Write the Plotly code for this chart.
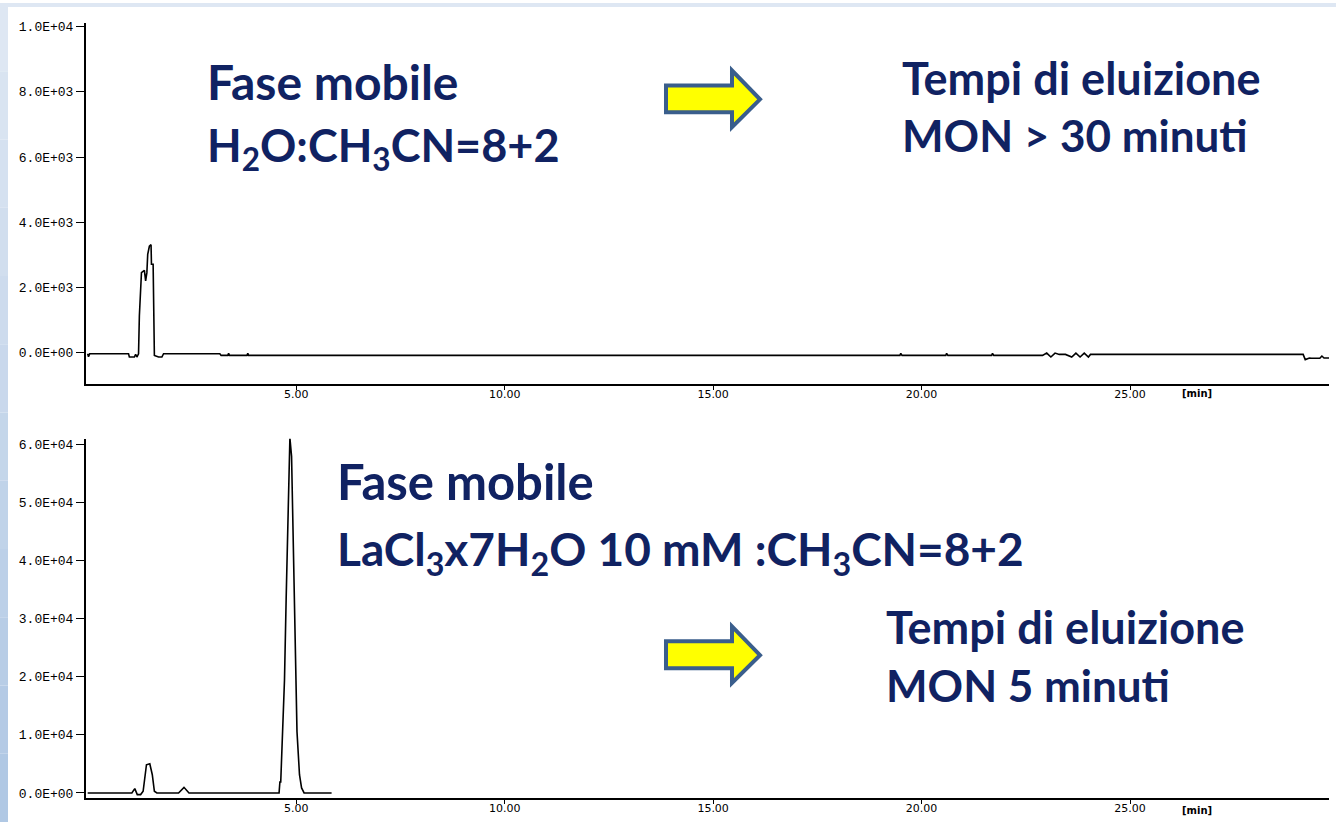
import plotly.graph_objects as go

W, H = 1336, 825

# ---------------- data ----------------
top_time = [0.0, 0.02, 0.05, 0.1, 0.98, 1.0, 1.12, 1.15, 1.18, 1.22, 1.24, 1.29, 1.36, 1.39, 1.42, 1.44,
            1.48, 1.52, 1.53, 1.57, 1.59, 1.6, 1.7, 1.78, 1.82, 3.17, 3.2, 3.36, 3.38, 3.4, 3.82, 3.84, 3.86,
            19.48, 19.5, 19.53, 20.58, 20.6, 20.63, 21.68, 21.7, 21.73,
            22.9, 23.0, 23.1, 23.2, 23.3, 23.45, 23.6, 23.7, 23.8, 23.9, 24.0, 24.05,
            29.15, 29.2, 29.3, 29.35, 29.55, 29.6, 29.65, 29.72, 29.78]
top_signal = [-40, -130, -40, -40, -40, -140, -140, -60, -140, -40, 1130, 2450, 2520, 2200, 2450, 3010,
              3260, 3310, 2710, 2710, 1030, -90, -140, -140, -40, -40, -90, -90, -30, -90, -90, -30, -90,
              -90, -30, -90, -90, -30, -90, -90, -30, -90,
              -90, -20, -140, -20, -60, -60, -140, -20, -140, -20, -140, -60,
              -60, -220, -170, -180, -180, -110, -170, -170, -170]

bot_time = [0.0, 1.06, 1.13, 1.19, 1.27, 1.33, 1.41, 1.49, 1.55, 1.6, 1.66, 2.18, 2.31, 2.43,
            4.59, 4.61, 4.63, 4.66, 4.72, 4.76, 4.81, 4.85, 4.89, 4.95, 4.98, 5.02, 5.08, 5.13, 5.19, 5.85]
bot_signal = [0, 0, 740, -280, -280, 290, 4860, 5030, 3140, 290, 0, 0, 970, 0,
              0, 1890, 1890, 6860, 19430, 33400, 52000, 61200, 58000, 33400, 27430, 10570, 3140, 860, 0, 0]

x_ticks = [5, 10, 15, 20, 25]
x_tick_labels = ["5.00", "10.00", "15.00", "20.00", "25.00"]
top_y_ticks = [0, 2000, 4000, 6000, 8000, 10000]
top_y_labels = ["0.0E+00", "2.0E+03", "4.0E+03", "6.0E+03", "8.0E+03", "1.0E+04"]
bot_y_ticks = [0, 10000, 20000, 30000, 40000, 50000, 60000]
bot_y_labels = ["0.0E+00", "1.0E+04", "2.0E+04", "3.0E+04", "4.0E+04", "5.0E+04", "6.0E+04"]


def px(x):
    return x / W


def py(y):
    return 1 - y / H


TEXT_COLOR = "#102262"
FONT = "Lato"

fig = go.Figure()
fig.add_trace(go.Scatter(x=top_time, y=top_signal, mode="lines",
                         line=dict(color="black", width=1.6), xaxis="x", yaxis="y", showlegend=False))
fig.add_trace(go.Scatter(x=bot_time, y=bot_signal, mode="lines",
                         line=dict(color="black", width=1.6), xaxis="x2", yaxis="y2", showlegend=False))

xcommon = dict(showgrid=False, zeroline=False, showline=True, linecolor="black", linewidth=2,
               ticks="outside", ticklen=4, tickcolor="black", tickwidth=1, ticklabelstandoff=-5,
               tickvals=x_ticks, ticktext=x_tick_labels,
               tickfont=dict(family="DejaVu Sans", size=11, color="black"),
               range=[-0.04, 29.77], domain=[px(86), px(1329)], fixedrange=True)
ycommon = dict(showgrid=False, zeroline=False, showline=True, linecolor="black", linewidth=2,
               ticks="outside", ticklen=8, tickcolor="black", tickwidth=1,
               tickfont=dict(family="Liberation Mono", size=13, color="black"), fixedrange=True)

fig.update_layout(
    width=W, height=H,
    font=dict(family=FONT, size=12, color="black"),
    margin=dict(l=0, r=0, t=0, b=0),
    paper_bgcolor="white", plot_bgcolor="white",
    xaxis=dict(**xcommon, anchor="y"),
    yaxis=dict(**ycommon, anchor="x", domain=[py(384), py(20)], range=[-975, 10120],
               tickvals=top_y_ticks, ticktext=top_y_labels),
    xaxis2=dict(**xcommon, anchor="y2"),
    yaxis2=dict(**ycommon, anchor="x2", domain=[py(801), py(439)], range=[-900, 61030],
                tickvals=bot_y_ticks, ticktext=bot_y_labels),
)

# background strips (light-blue slide frame)
shapes = []
n = 12
for i in range(n):
    f = i / (n - 1)
    r = int(222 - f * (222 - 176))
    g = int(231 - f * (231 - 200))
    b = int(243 - f * (243 - 228))
    shapes.append(dict(type="rect", xref="paper", yref="paper", layer="below",
                       x0=0, x1=px(8), y0=py(H * (i + 1) / n), y1=py(H * i / n),
                       fillcolor=f"rgb({r},{g},{b})", line=dict(width=0)))
shapes.append(dict(type="rect", xref="paper", yref="paper", layer="below",
                   x0=0, x1=1, y0=py(4), y1=1, fillcolor="rgb(222,231,243)", line=dict(width=0)))


def arrow(dy):
    pts = [(666, 83), (732, 83), (732, 68), (760, 97), (732, 125), (732, 110), (666, 110)]
    path = "M " + " L ".join(f"{px(x):.5f},{py(y + dy):.5f}" for x, y in pts) + " Z"
    return dict(type="path", xref="paper", yref="paper", path=path,
                fillcolor="#ffff00", line=dict(color="#3a5e8c", width=4))


shapes.append(arrow(0))
shapes.append(arrow(560))
fig.update_layout(shapes=shapes)

annotations = []


def label(text, x, y, size):
    annotations.append(dict(text="<b>" + text + "</b>", x=px(x), y=py(y), xref="paper", yref="paper",
                            xanchor="left", yanchor="middle", showarrow=False,
                            font=dict(family=FONT, size=size, color=TEXT_COLOR)))


label("Fase mobile", 205, 79, 48)
label("H<sub>2</sub>O:CH<sub>3</sub>CN=8+2", 205, 146, 45)
label("Tempi di eluizione", 900, 76, 45)
label("MON &gt; 30 minuti", 900, 133, 44)
label("Fase mobile", 335, 482, 49)
label("LaCl<sub>3</sub>x7H<sub>2</sub>O 10 mM :CH<sub>3</sub>CN=8+2", 335, 553, 46)
label("Tempi di eluizione", 884, 629, 45)
label("MON 5 minuti", 884, 687, 44)

for yy in (393, 813):
    annotations.append(dict(text="<b>[min]</b>", x=px(1180), y=py(yy), xref="paper", yref="paper",
                            xanchor="left", yanchor="middle", showarrow=False,
                            font=dict(family="DejaVu Sans", size=10, color="black")))

fig.update_layout(annotations=annotations)

fig.write_html("out.html", config={"displayModeBar": False},
               post_script="document.body.style.margin='0px';")
